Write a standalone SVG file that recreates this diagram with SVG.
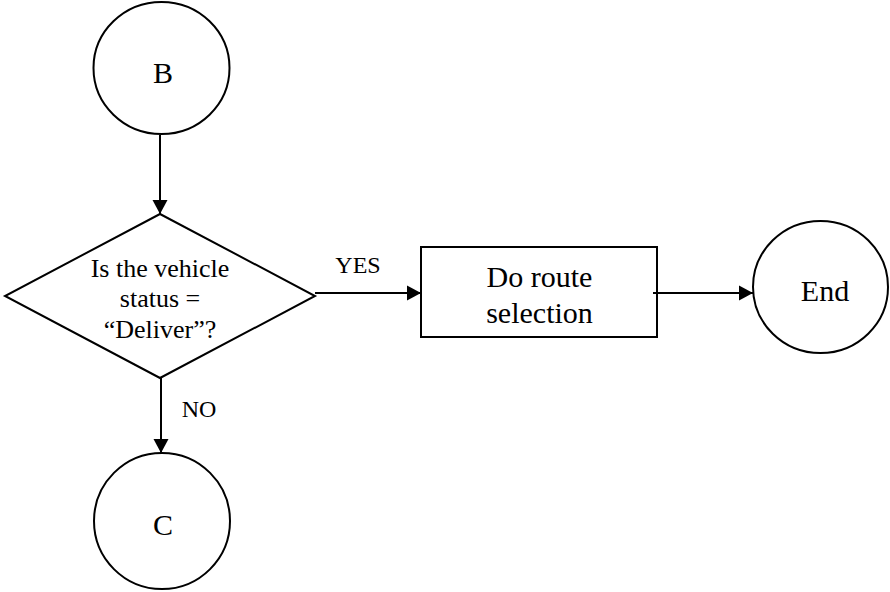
<svg xmlns="http://www.w3.org/2000/svg" width="890" height="592" viewBox="0 0 890 592">
<defs>
<style>
.shape{fill:#fff;stroke:#000;stroke-width:2}
.conn{fill:none;stroke:#000;stroke-width:2}
text{font-family:"Liberation Serif","Times New Roman",serif;fill:#000;text-anchor:middle}
.big{font-size:30px}
.mid{font-size:26px}
.lbl{font-size:24px}
</style>
<marker id="arr" markerUnits="userSpaceOnUse" markerWidth="16" markerHeight="16" viewBox="0 0 16 16" refX="15" refY="8" orient="auto">
<path d="M1,0.5 L15,8 L1,15.5 Z" fill="#000"/>
</marker>
</defs>
<rect width="890" height="592" fill="#fff"/>
<g id="connectors">
<line class="conn" x1="160" y1="135" x2="160" y2="214" marker-end="url(#arr)"/>
<line class="conn" x1="315" y1="293" x2="421" y2="293" marker-end="url(#arr)"/>
<line class="conn" x1="653" y1="293" x2="753" y2="293" marker-end="url(#arr)"/>
<line class="conn" x1="161" y1="378" x2="161" y2="453" marker-end="url(#arr)"/>
<text class="lbl" x="358" y="273">YES</text>
<text class="lbl" x="199" y="417">NO</text>
</g>
<g id="nodeB">
<ellipse class="shape" cx="161.5" cy="68" rx="68" ry="66"/>
<text class="big" x="163" y="83">B</text>
</g>
<g id="decision">
<polygon class="shape" points="160,214 315,296 160,378 5,296"/>
<text class="mid" x="160" y="277">Is the vehicle</text>
<text class="mid" x="160" y="307">status =</text>
<text class="mid" x="160" y="338">“Deliver”?</text>
</g>
<g id="route">
<rect class="shape" x="421" y="247" width="236" height="90"/>
<text class="big" x="539.5" y="287">Do route</text>
<text class="big" x="539.5" y="323">selection</text>
</g>
<line class="conn" x1="653" y1="293" x2="662" y2="293"/>
<g id="nodeEnd">
<ellipse class="shape" cx="820.5" cy="287" rx="67.5" ry="66"/>
<text class="big" x="825" y="301">End</text>
</g>
<g id="nodeC">
<ellipse class="shape" cx="162" cy="521" rx="68" ry="68"/>
<text class="big" x="163" y="535">C</text>
</g>
</svg>
